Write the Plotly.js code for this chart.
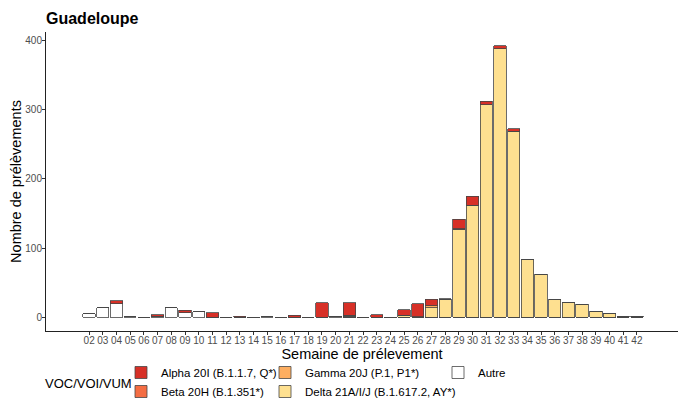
<!DOCTYPE html>
<html><head><meta charset="utf-8">
<script src="https://cdn.plot.ly/plotly-3.0.1.min.js"></script>
<style>html,body{margin:0;padding:0;background:#fff}#chart{width:683px;height:398px}</style>
</head><body><div id="chart"></div>
<script>
const weeks = ['02','03','04','05','06','07','08','09','10','11','12','13','14','15','16','17','18','19','20','21','22','23','24','25','26','27','28','29','30','31','32','33','34','35','36','37','38','39','40','41','42'];
const autre = [5,14,20,1,0,2,14,7,8,0,0,0,0,1,0,0,0,0,1,0,0,0,0,0,0,0,0,0,0,0,0,0,0,0,0,0,0,0,0,0,0];
const delta = [0,0,0,0,0,0,0,0,0,0,0,0,0,0,0,0,0,0,0,2,0,0,0,3,1,14,26,127,162,307,388,269,84,62,26,22,19,9,6,2,2];
const gamma = [0,0,0,0,0,0,0,0,0,0,0,0,0,0,0,0,0,0,0,1,0,0,0,0,0,3,0,1,0,0,0,0,0,0,0,0,0,0,0,0,0];
const beta  = [0,0,0,0,0,0,0,0,0,0,0,0,0,0,0,0,0,0,0,0,0,0,0,0,0,0,0,0,0,0,0,0,0,0,0,0,0,0,0,0,0];
const alpha = [0,0,4,0,0,2,0,3,0,7,0,2,0,0,0,3,0,21,0,18,0,4,0,8,19,9,1,14,13,5,4,3,0,0,0,0,0,0,0,0,0];

const names = {
  alpha: 'Alpha 20I (B.1.1.7, Q*)',
  beta: 'Beta 20H (B.1.351*)',
  gamma: 'Gamma 20J (P.1, P1*)',
  delta: 'Delta 21A/I/J (B.1.617.2, AY*)',
  autre: 'Autre'
};
const colors = {alpha:'#D73027', beta:'#F46D43', gamma:'#FDAE61', delta:'#FEE090', autre:'#FFFFFF'};
const FONT = 'Liberation Sans, Arial, sans-serif';
const outline = {color:'rgb(70,70,70)', width:0.8};

function tr(key, vals, legend, rank){
  return {type:'bar', x:weeks, y:vals, name:names[key],
    marker:{color:colors[key], line:outline},
    legend:legend, legendrank:rank};
}
const data = [
  tr('autre', autre, 'legend3', 1),
  tr('delta', delta, 'legend2', 2),
  tr('gamma', gamma, 'legend2', 1),
  tr('beta', beta, 'legend', 2),
  tr('alpha', alpha, 'legend', 1)
];
// whole figure is the paper area; axes placed through domains (plot x 46..678, y 32..331)
const W = 683, H = 398;
const FX = px => px / W;
const FY = py => (H - py) / H;
const legBase = {xanchor:'left', yanchor:'top',
  y:FY(358), orientation:'v', traceorder:'normal', bgcolor:'rgba(0,0,0,0)',
  font:{family:FONT, size:11.5, color:'#000'}, itemwidth:30};
const layout = {
  width:W, height:H,
  margin:{l:0, r:0, t:0, b:0, pad:0, autoexpand:false},
  paper_bgcolor:'#fff', plot_bgcolor:'#fff',
  font:{family:FONT, color:'#000'},
  barmode:'stack', bargap:0.1,
  showlegend:true,
  title:{text:'<b>Guadeloupe</b>', x:FX(46), xanchor:'left', xref:'paper', y:FY(18), yanchor:'middle', yref:'paper',
    font:{family:FONT, size:16, color:'#000'}},
  xaxis:{type:'category', domain:[FX(46), FX(678)], range:[-3.15, 43.0], showgrid:false, zeroline:false,
    showline:true, linecolor:'#222', linewidth:1, ticks:'outside', ticklen:3, tickcolor:'#333', tickwidth:1,
    ticklabelstandoff:-3,
    tickfont:{family:FONT, size:10, color:'#4D4D4D'}, tickangle:0,
    title:{text:'Semaine de prélevement', font:{family:FONT, size:14.5, color:'#000'}, standoff:3}},
  yaxis:{domain:[FY(331), FY(32)], range:[-19.6, 412], showgrid:false, zeroline:false,
    showline:true, linecolor:'#222', linewidth:1, ticks:'outside', ticklen:3, tickcolor:'#333', tickwidth:1,
    ticklabelstandoff:-2,
    tickvals:[0,100,200,300,400], tickfont:{family:FONT, size:10, color:'#4D4D4D'},
    title:{text:'Nombre de prélèvements', font:{family:FONT, size:14.5, color:'#000'}, standoff:0}},
  legend: Object.assign({}, legBase, {x:FX(121)}),
  legend2: Object.assign({}, legBase, {x:FX(265)}),
  legend3: Object.assign({}, legBase, {x:FX(438)}),
  annotations:[{text:'VOC/VOI/VUM', xref:'paper', yref:'paper', x:FX(43), y:FY(383),
    xanchor:'left', yanchor:'middle', showarrow:false,
    font:{family:FONT, size:13, color:'#000'}}]
};
Plotly.newPlot('chart', data, layout, {displayModeBar:false, staticPlot:true});
</script>
</body></html>
